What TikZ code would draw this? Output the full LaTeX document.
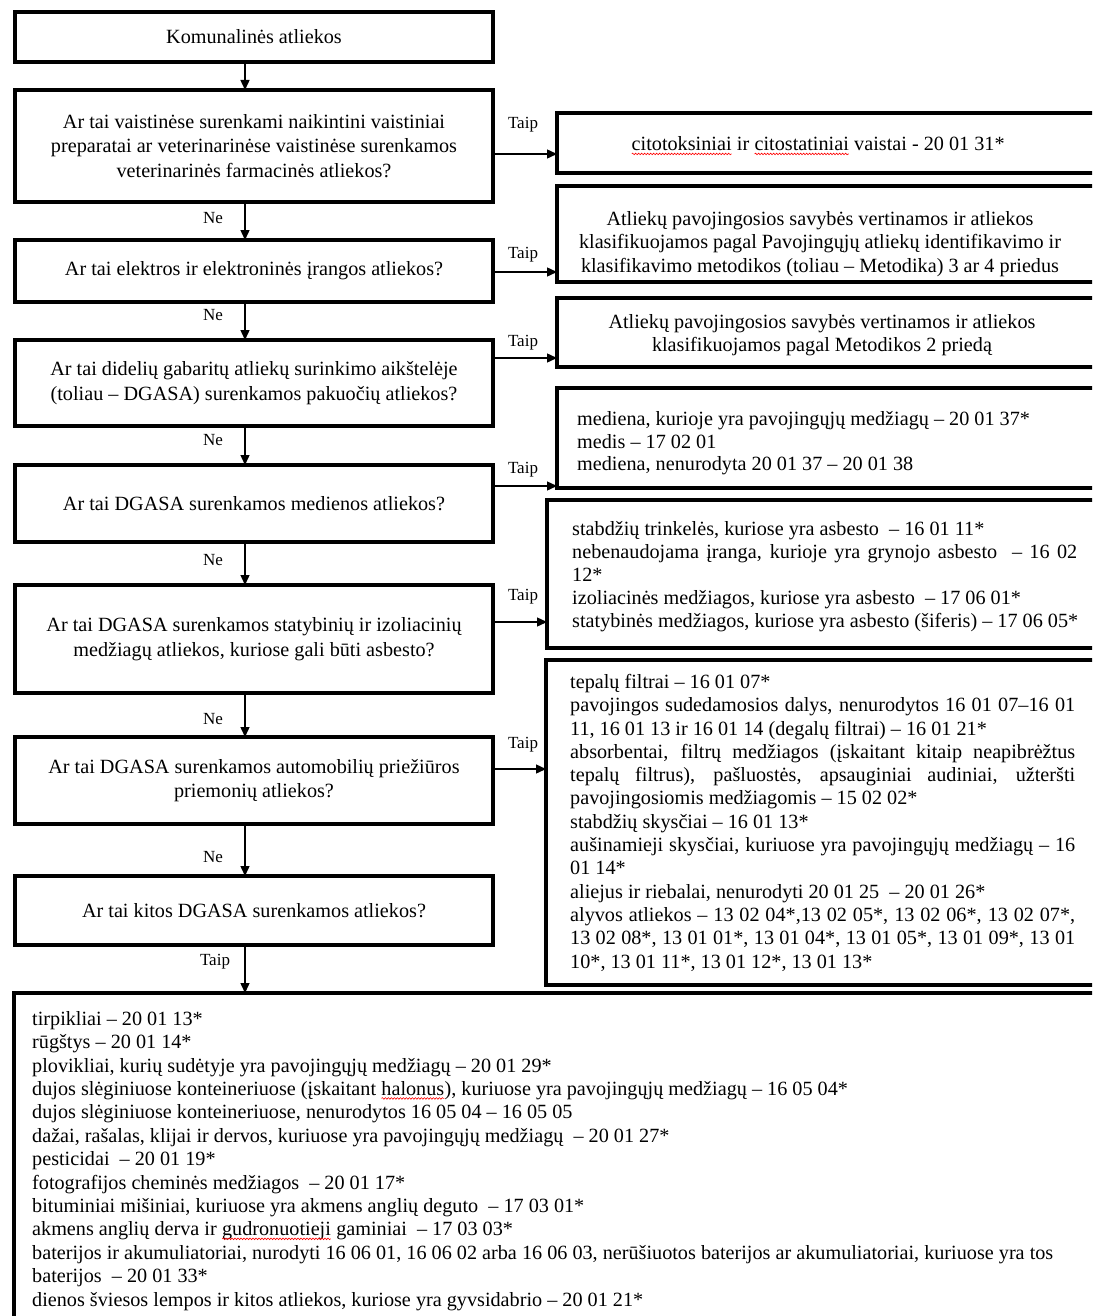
\documentclass[tikz,border=0pt]{standalone}
\usepackage{fontspec}
\setmainfont{Liberation Serif}
\usetikzlibrary{arrows.meta,decorations.pathmorphing}
\newcommand{\sqw}[1]{\tikz[baseline=(sqwn.base)]{\node[inner sep=0pt,outer sep=0pt](sqwn){#1};\draw[red,line width=0.6pt,decorate,decoration={snake,amplitude=0.8pt,segment length=3pt}]([yshift=-3pt]sqwn.base west)--([yshift=-3pt]sqwn.base east);}}
\newcommand{\jl}[1]{\makebox[505pt][s]{#1}}
\begin{document}
\begin{tikzpicture}[x=1pt,y=-1pt,
  box/.style={draw,line width=3.2pt,inner sep=0pt,outer sep=0pt},
  qtext/.style={font=\fontsize{20.2}{24.5}\selectfont,align=center},
  ctext/.style={font=\fontsize{20.2}{23.5}\selectfont,align=center,inner sep=0pt},
  ltext/.style={font=\fontsize{20.2}{23.3}\selectfont,align=left,inner sep=0pt,anchor=north west},
  lbl/.style={font=\fontsize{17}{20}\selectfont,inner sep=0pt},
  conn/.style={line width=1.4pt,-{Triangle[length=10pt,width=9pt]}}]
\useasboundingbox (0,0) rectangle (1092,1316);
\clip (0,0) rectangle (1092,1316);
\fill[white] (0,0) rectangle (1092,1316);

% question boxes
\node[box,qtext,minimum width=478pt,minimum height=50pt] (b1) at (254,37) {Komunalinės atliekos};
\node[box,qtext,minimum width=478pt,minimum height=112pt] (b2) at (254,146) {Ar tai vaistinėse surenkami naikintini vaistiniai\\preparatai ar veterinarinėse vaistinėse surenkamos\\veterinarinės farmacinės atliekos?};
\node[box,qtext,minimum width=478pt,minimum height=62pt] (b3) at (254,271) {Ar tai elektros ir elektroninės įrangos atliekos?};
\node[box,qtext,minimum width=478pt,minimum height=86pt] (b4) at (254,383) {Ar tai didelių gabaritų atliekų surinkimo aikštelėje\\(toliau – DGASA) surenkamos pakuočių atliekos?};
\node[box,qtext,minimum width=478pt,minimum height=77pt] (b5) at (254,503.5) {Ar tai DGASA surenkamos medienos atliekos?};
\node[box,qtext,minimum width=478pt,minimum height=108pt] (b6) at (254,639) {Ar tai DGASA surenkamos statybinių ir izoliacinių\\medžiagų atliekos, kuriose gali būti asbesto?};
\node[box,qtext,minimum width=478pt,minimum height=87pt] (b7) at (254,780.5) {Ar tai DGASA surenkamos automobilių priežiūros\\priemonių atliekos?};
\node[box,qtext,minimum width=478pt,minimum height=69pt] (b8) at (254,910.5) {Ar tai kitos DGASA surenkamos atliekos?};

% result boxes
\node[box,minimum width=553pt,minimum height=60pt] (r1) at (833.5,143) {};
\node[box,minimum width=553pt,minimum height=96pt] (r2) at (833.5,234) {};
\node[box,minimum width=553pt,minimum height=69pt] (r3) at (833.5,332.5) {};
\node[box,minimum width=553pt,minimum height=100pt] (r4) at (833.5,438) {};
\node[box,minimum width=563pt,minimum height=148pt] (r5) at (828.5,574) {};
\node[box,minimum width=564pt,minimum height=325pt] (r6) at (828,822.5) {};
\node[box,minimum width=1096pt,minimum height=347pt] (bb) at (562,1166.5) {};

% result texts
\node[ctext] (r1t) at (818,146) {\sqw{citotoksiniai} ir \sqw{citostatiniai} vaistai - 20 01 31*};
\node[ctext] (r2t) at (820,244) {Atliekų pavojingosios savybės vertinamos ir atliekos\\klasifikuojamos pagal Pavojingųjų atliekų identifikavimo ir\\klasifikavimo metodikos (toliau – Metodika) 3 ar 4 priedus};
\node[ctext] (r3t) at (822,335) {Atliekų pavojingosios savybės vertinamos ir atliekos\\klasifikuojamos pagal Metodikos 2 priedą};
\node[ltext,font=\fontsize{20.2}{22.8}\selectfont] (r4t) at (577,411) {mediena, kurioje yra pavojingųjų medžiagų – 20 01 37*\\medis – 17 02 01\\mediena, nenurodyta 20 01 37 – 20 01 38};
\node[ltext,font=\fontsize{20.2}{23}\selectfont] (r5t) at (572,521) {stabdžių trinkelės, kuriose yra asbesto\ \ – 16 01 11*\\\jl{nebenaudojama įranga, kurioje yra grynojo asbesto\ \ – 16 02}\\12*\\izoliacinės medžiagos, kuriose yra asbesto\ \ – 17 06 01*\\statybinės medžiagos, kuriose yra asbesto (šiferis) – 17 06 05*};
\node[ltext] (r6t) at (570,674) {tepalų filtrai – 16 01 07*\\
\jl{pavojingos sudedamosios dalys, nenurodytos 16 01 07–16 01}\\
11, 16 01 13 ir 16 01 14 (degalų filtrai) – 16 01 21*\\
\jl{absorbentai, filtrų medžiagos (įskaitant kitaip neapibrėžtus}\\
\jl{tepalų filtrus), pašluostės, apsauginiai audiniai, užteršti}\\
pavojingosiomis medžiagomis – 15 02 02*\\
stabdžių skysčiai – 16 01 13*\\
\jl{aušinamieji skysčiai, kuriuose yra pavojingųjų medžiagų\ – 16}\\
01 14*\\
aliejus ir riebalai, nenurodyti 20 01 25\ \ – 20 01 26*\\
\jl{alyvos atliekos – 13 02 04*,13 02 05*, 13 02 06*, 13 02 07*,}\\
\jl{13 02 08*, 13 01 01*, 13 01 04*, 13 01 05*, 13 01 09*, 13 01}\\
10*, 13 01 11*, 13 01 12*, 13 01 13*};
\node[ltext,font=\fontsize{20.2}{23.4}\selectfont] (bbt) at (32,1011) {tirpikliai – 20 01 13*\\
rūgštys – 20 01 14*\\
plovikliai, kurių sudėtyje yra pavojingųjų medžiagų – 20 01 29*\\
dujos slėginiuose konteineriuose (įskaitant \sqw{halonus}), kuriuose yra pavojingųjų medžiagų – 16 05 04*\\
dujos slėginiuose konteineriuose, nenurodytos 16 05 04 – 16 05 05\\
dažai, rašalas, klijai ir dervos, kuriuose yra pavojingųjų medžiagų\ \ – 20 01 27*\\
pesticidai\ \ – 20 01 19*\\
fotografijos cheminės medžiagos\ \ – 20 01 17*\\
bituminiai mišiniai, kuriuose yra akmens anglių deguto\ \ – 17 03 01*\\
akmens anglių derva ir \sqw{gudronuotieji} gaminiai\ \ – 17 03 03*\\
baterijos ir akumuliatoriai, nurodyti 16 06 01, 16 06 02 arba 16 06 03, nerūšiuotos baterijos ar akumuliatoriai, kuriuose yra tos\\
baterijos\ \ – 20 01 33*\\
dienos šviesos lempos ir kitos atliekos, kuriose yra gyvsidabrio – 20 01 21*};

% vertical connectors
\draw[conn] ([xshift=-9pt]b1.south) -- ([xshift=-9pt]b2.north);
\draw[conn] ([xshift=-9pt]b2.south) -- ([xshift=-9pt]b3.north);
\draw[conn] ([xshift=-9pt]b3.south) -- ([xshift=-9pt]b4.north);
\draw[conn] ([xshift=-9pt]b4.south) -- ([xshift=-9pt]b5.north);
\draw[conn] ([xshift=-9pt]b5.south) -- ([xshift=-9pt]b6.north);
\draw[conn] ([xshift=-9pt]b6.south) -- ([xshift=-9pt]b7.north);
\draw[conn] ([xshift=-9pt]b7.south) -- ([xshift=-9pt]b8.north);
\draw[conn] ([xshift=-9pt]b8.south) -- ([xshift=-9pt]b8.south |- bb.north);

% horizontal connectors
\draw[conn] (b2.east |- 0,154) -- (r1.west |- 0,154);
\draw[conn] (b3.east |- 0,272) -- (r2.west |- 0,272);
\draw[conn] (b4.east |- 0,358) -- (r3.west |- 0,358);
\draw[conn] (b5.east |- 0,486) -- (r4.west |- 0,486);
\draw[conn] (b6.east |- 0,622) -- (r5.west |- 0,622);
\draw[conn] (b7.east |- 0,769) -- (r6.west |- 0,769);

% labels
\node[lbl] (ne1) at (213,218) {Ne};
\node[lbl] (ne2) at (213,315) {Ne};
\node[lbl] (ne3) at (213,440) {Ne};
\node[lbl] (ne4) at (213,560) {Ne};
\node[lbl] (ne5) at (213,719) {Ne};
\node[lbl] (ne6) at (213,857) {Ne};
\node[lbl] (ty8) at (215,962) {Taip};
\node[lbl] (ty2) at (523,125) {Taip};
\node[lbl] (ty3) at (523,255) {Taip};
\node[lbl] (ty4) at (523,343) {Taip};
\node[lbl] (ty5) at (523,470) {Taip};
\node[lbl] (ty6) at (523,597) {Taip};
\node[lbl] (ty7) at (523,745) {Taip};
\end{tikzpicture}
\end{document}
